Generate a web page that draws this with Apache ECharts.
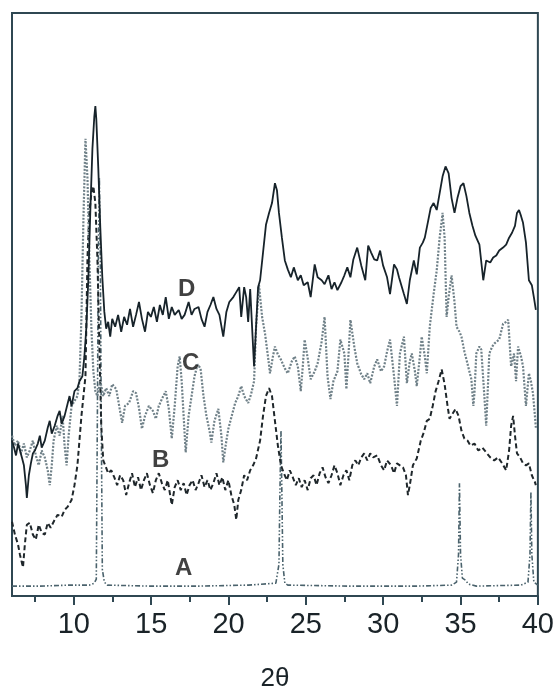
<!DOCTYPE html>
<html>
<head>
<meta charset="utf-8">
<script src="https://cdn.jsdelivr.net/npm/echarts@6/dist/echarts.min.js"></script>
<style>html,body{margin:0;padding:0;background:#fff}#c{width:557px;height:697px}</style>
</head>
<body>
<div id="c"></div>
<script>
// 2θ tick labels
var majorTicks = [10, 15, 20, 25, 30, 35, 40];
var minorTicks = [7.5, 12.5, 17.5, 22.5, 27.5, 32.5, 37.5];

// Pattern A (dash-dot-dot) : [2θ, intensity a.u.]
var seriesA = [[6.00,10],[7.80,10],[9.72,11],[11.00,11],[11.32,13],[11.45,17],[11.52,182],[11.58,342],[11.65,422],[11.71,342],[11.77,182],[11.84,27],[11.97,14],[12.16,11],[14.85,10],[18.06,10],[21.27,11],[23.06,13],[23.26,32],[23.32,102],[23.39,167],[23.45,102],[23.51,32],[23.64,13],[23.83,11],[27.68,10],[32.17,10],[34.42,11],[34.74,14],[34.87,42],[34.93,114],[35.00,42],[35.12,18],[35.32,16],[35.51,12],[36.02,10],[38.91,11],[39.36,14],[39.49,42],[39.55,105],[39.61,42],[39.74,14],[40.00,11]];

// Pattern B (dashed)
var seriesB = [[6.00,75],[6.19,62],[6.39,52],[6.51,42],[6.71,29],[6.83,52],[6.96,72],[7.15,74],[7.35,62],[7.54,57],[7.73,72],[7.92,64],[8.12,62],[8.31,74],[8.50,69],[8.76,77],[8.95,82],[9.21,80],[9.40,87],[9.59,90],[9.85,97],[10.04,112],[10.23,132],[10.36,157],[10.49,182],[10.62,202],[10.75,222],[10.88,342],[11.00,387],[11.13,407],[11.26,414],[11.39,397],[11.52,342],[11.65,252],[11.77,172],[11.90,137],[12.03,132],[12.22,124],[12.42,127],[12.61,120],[12.80,112],[12.99,122],[13.19,117],[13.38,102],[13.57,114],[13.76,124],[13.95,110],[14.15,120],[14.34,107],[14.53,117],[14.72,124],[14.92,112],[15.11,104],[15.30,117],[15.49,124],[15.69,114],[15.88,107],[16.07,117],[16.33,92],[16.52,110],[16.71,117],[16.91,107],[17.10,114],[17.29,102],[17.48,112],[17.68,117],[17.87,107],[18.06,114],[18.25,122],[18.45,110],[18.64,117],[18.83,107],[19.02,114],[19.22,124],[19.41,112],[19.60,120],[19.79,107],[19.99,117],[20.18,102],[20.37,92],[20.50,77],[20.63,97],[20.82,107],[21.01,122],[21.20,117],[21.40,127],[21.59,132],[21.78,139],[22.04,157],[22.23,182],[22.42,202],[22.62,210],[22.81,202],[23.00,177],[23.19,152],[23.39,132],[23.58,124],[23.77,117],[23.96,127],[24.15,120],[24.35,112],[24.54,119],[24.73,110],[24.92,117],[25.12,107],[25.31,119],[25.50,122],[25.69,112],[25.89,124],[26.08,130],[26.27,120],[26.46,114],[26.66,122],[26.85,132],[27.04,124],[27.23,112],[27.43,122],[27.62,127],[27.81,117],[28.00,132],[28.20,137],[28.39,132],[28.58,140],[28.77,144],[28.97,137],[29.16,144],[29.35,140],[29.61,142],[29.86,132],[30.06,127],[30.25,137],[30.51,132],[30.70,124],[30.89,134],[31.08,132],[31.28,130],[31.47,122],[31.60,102],[31.72,112],[31.92,132],[32.17,139],[32.43,157],[32.62,165],[32.82,177],[33.01,179],[33.20,192],[33.39,207],[33.58,217],[33.78,229],[33.97,214],[34.16,192],[34.29,179],[34.48,184],[34.68,189],[34.87,182],[35.06,167],[35.25,159],[35.45,157],[35.64,152],[35.90,154],[36.15,147],[36.41,150],[36.66,145],[36.92,140],[37.18,137],[37.43,140],[37.69,134],[37.95,127],[38.14,147],[38.27,172],[38.40,182],[38.52,162],[38.65,144],[38.85,140],[39.04,134],[39.23,132],[39.42,134],[39.61,122],[39.81,115],[39.87,112]];

// Pattern C (grey dotted)
var seriesC = [[6.00,162],[6.19,152],[6.39,157],[6.58,144],[6.77,154],[6.96,140],[7.15,147],[7.35,157],[7.54,142],[7.73,132],[7.92,147],[8.12,140],[8.31,127],[8.44,112],[8.57,132],[8.69,157],[8.89,172],[9.08,162],[9.27,182],[9.40,152],[9.53,132],[9.66,162],[9.85,192],[10.04,197],[10.23,202],[10.36,217],[10.49,282],[10.62,382],[10.75,462],[10.88,422],[11.00,342],[11.13,272],[11.26,227],[11.39,207],[11.52,202],[11.71,217],[11.90,202],[12.09,210],[12.29,202],[12.48,214],[12.74,209],[12.93,192],[13.12,175],[13.31,192],[13.57,195],[13.83,207],[14.02,205],[14.21,190],[14.40,169],[14.60,182],[14.85,192],[15.11,187],[15.30,179],[15.49,192],[15.69,199],[15.94,207],[16.14,189],[16.33,159],[16.52,192],[16.71,232],[16.84,242],[16.97,217],[17.23,145],[17.42,182],[17.61,202],[17.80,222],[18.00,234],[18.19,230],[18.38,202],[18.57,182],[18.77,167],[18.89,155],[19.09,177],[19.34,189],[19.54,162],[19.66,135],[19.86,157],[19.99,169],[20.24,184],[20.43,195],[20.63,202],[20.82,212],[21.01,202],[21.27,195],[21.46,204],[21.65,217],[21.78,272],[21.97,314],[22.17,282],[22.36,265],[22.55,242],[22.68,225],[22.87,242],[23.00,252],[23.19,244],[23.38,239],[23.64,230],[23.83,225],[24.09,237],[24.28,242],[24.48,232],[24.67,207],[24.80,232],[24.92,259],[25.12,240],[25.31,219],[25.57,227],[25.76,235],[26.02,257],[26.21,282],[26.40,222],[26.59,199],[26.78,217],[27.04,227],[27.23,259],[27.49,245],[27.62,209],[27.75,242],[27.88,279],[28.13,252],[28.32,235],[28.58,224],[28.77,219],[28.97,225],[29.16,215],[29.42,232],[29.61,239],[29.86,227],[30.06,232],[30.25,247],[30.44,259],[30.70,222],[30.89,192],[31.08,245],[31.34,262],[31.53,215],[31.72,237],[31.85,245],[32.05,227],[32.17,212],[32.37,242],[32.49,262],[32.69,242],[32.82,225],[33.01,272],[33.26,305],[33.46,329],[33.65,362],[33.84,387],[33.97,362],[34.10,282],[34.23,302],[34.42,324],[34.61,297],[34.74,272],[34.93,267],[35.06,262],[35.25,247],[35.38,239],[35.57,227],[35.70,219],[35.83,192],[35.90,205],[36.02,245],[36.22,252],[36.34,249],[36.54,202],[36.66,172],[36.86,245],[37.05,252],[37.18,255],[37.50,259],[37.75,275],[37.95,277],[38.08,279],[38.27,232],[38.46,245],[38.59,217],[38.72,252],[38.91,242],[39.04,232],[39.23,192],[39.42,225],[39.55,217],[39.68,205],[39.81,182],[39.87,170]];

// Pattern D (solid)
var seriesD = [[6.00,157],[6.13,150],[6.26,142],[6.39,154],[6.51,152],[6.64,140],[6.77,132],[6.90,112],[6.96,99],[7.09,122],[7.22,134],[7.35,144],[7.48,147],[7.67,154],[7.80,162],[7.92,150],[8.12,157],[8.31,170],[8.44,177],[8.57,164],[8.76,172],[8.95,182],[9.08,187],[9.21,174],[9.40,182],[9.59,194],[9.72,202],[9.85,192],[10.04,207],[10.23,210],[10.36,217],[10.55,222],[10.68,242],[10.81,272],[10.94,322],[11.07,392],[11.20,452],[11.32,484],[11.39,495],[11.45,482],[11.58,432],[11.71,372],[11.84,322],[11.97,287],[12.09,270],[12.22,277],[12.35,262],[12.48,280],[12.67,272],[12.86,284],[13.06,267],[13.25,282],[13.44,274],[13.63,290],[13.83,272],[14.02,284],[14.21,297],[14.40,280],[14.60,267],[14.79,287],[14.98,282],[15.17,292],[15.37,277],[15.56,294],[15.75,284],[15.94,302],[16.14,280],[16.33,292],[16.52,284],[16.78,289],[16.97,280],[17.16,284],[17.42,297],[17.61,284],[17.80,290],[18.06,292],[18.25,280],[18.45,272],[18.64,287],[18.83,294],[19.02,302],[19.22,290],[19.41,284],[19.66,262],[19.86,287],[20.05,297],[20.31,302],[20.50,307],[20.69,312],[20.82,282],[21.01,312],[21.14,302],[21.27,277],[21.40,310],[21.52,312],[21.65,232],[21.78,272],[21.91,312],[22.04,319],[22.23,347],[22.42,375],[22.62,387],[22.81,397],[23.00,417],[23.13,410],[23.26,387],[23.45,362],[23.64,339],[23.83,330],[24.03,322],[24.22,332],[24.48,319],[24.67,324],[24.86,314],[25.12,317],[25.31,302],[25.57,335],[25.76,322],[26.02,319],[26.21,315],[26.46,324],[26.66,310],[26.85,317],[27.04,309],[27.30,317],[27.49,324],[27.68,332],[27.88,322],[28.07,340],[28.32,352],[28.58,334],[28.84,319],[29.03,354],[29.22,347],[29.42,340],[29.61,339],[29.80,349],[29.99,334],[30.25,322],[30.44,305],[30.70,335],[30.89,330],[31.02,322],[31.21,312],[31.34,305],[31.53,295],[31.72,319],[31.98,339],[32.17,325],[32.37,352],[32.56,357],[32.69,362],[32.88,377],[33.07,392],[33.26,397],[33.46,390],[33.65,407],[33.84,424],[34.03,434],[34.23,427],[34.42,402],[34.61,387],[34.80,402],[35.00,414],[35.19,417],[35.38,404],[35.57,387],[35.77,374],[35.96,364],[36.22,355],[36.47,319],[36.66,339],[36.92,337],[37.11,342],[37.31,344],[37.50,349],[37.75,352],[37.95,355],[38.14,362],[38.33,367],[38.52,374],[38.65,387],[38.78,390],[38.91,384],[39.04,377],[39.23,357],[39.42,319],[39.61,314],[39.74,302],[39.87,289]];

// curve labels: [2θ, intensity, text]
var curveLabels = [[17.29,310,'D'],[17.55,235,'C'],[15.62,137,'B'],[17.10,28,'A']];

var frameColor = '#2f4752';
var textColor = '#1a2328';

var chart = echarts.init(document.getElementById('c'), null, {renderer: 'canvas'});
chart.setOption({
  animation: false,
  backgroundColor: '#ffffff',
  grid: {left: 12, right: 15, top: 13, bottom: 95, show: true, borderColor: frameColor, borderWidth: 2, backgroundColor: 'transparent'},
  xAxis: [{
    type: 'value', min: 6, max: 40,
    axisLine: {show: true, onZero: false, lineStyle: {color: frameColor, width: 2}},
    axisTick: {show: true, customValues: majorTicks, length: 9, inside: false, lineStyle: {color: frameColor, width: 2}},
    axisLabel: {show: true, customValues: majorTicks, margin: 14, color: textColor, fontSize: 29, fontFamily: '"Liberation Sans Narrow", "Liberation Sans", Arial, sans-serif'},
    splitLine: {show: false},
    name: '2θ', nameLocation: 'middle', nameGap: 70,
    nameTextStyle: {color: textColor, fontSize: 26, fontFamily: '"Liberation Sans Narrow", "Liberation Sans", Arial, sans-serif'}
  }, {
    type: 'value', min: 6, max: 40, position: 'bottom',
    axisLine: {show: false},
    axisTick: {show: true, customValues: minorTicks, length: 6, lineStyle: {color: frameColor, width: 2}},
    axisLabel: {show: false},
    splitLine: {show: false}
  }],
  yAxis: {type: 'value', min: 0, max: 589, show: false, splitLine: {show: false}},
  series: [
    {type: 'line', name: 'A', data: seriesA, showSymbol: false, symbol: 'none', lineStyle: {color: '#4a626c', width: 1.6, type: [5, 2, 1.5, 2, 1.5, 2]}, z: 2},
    {type: 'line', name: 'B', data: seriesB, showSymbol: false, symbol: 'none', lineStyle: {color: '#1f272b', width: 2, type: [5, 3]}, z: 3},
    {type: 'line', name: 'C', data: seriesC, showSymbol: false, symbol: 'none', lineStyle: {color: '#6f8088', width: 2.2, type: [2, 1.5]}, z: 4},
    {type: 'line', name: 'D', data: seriesD, showSymbol: false, symbol: 'none', lineStyle: {color: '#17232a', width: 1.8, type: 'solid'}, z: 5},
    {type: 'scatter', name: 'labels', data: curveLabels, symbolSize: 1, itemStyle: {color: 'transparent'},
     label: {show: true, position: 'inside', formatter: function (p) { return p.data[2]; }, color: '#111', fontSize: 24, fontWeight: 'bold', fontFamily: '"Liberation Sans", Arial, sans-serif'}, z: 6}
  ]
});
</script>
</body>
</html>
